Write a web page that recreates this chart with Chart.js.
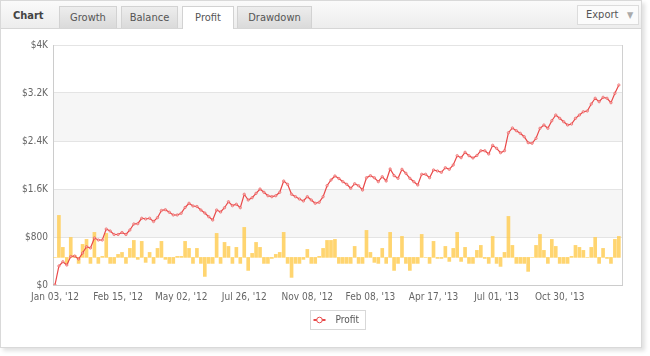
<!DOCTYPE html>
<html><head><meta charset="utf-8">
<script src="https://cdn.jsdelivr.net/npm/chart.js@4.4.1/dist/chart.umd.min.js"></script>
<style>
html,body{margin:0;padding:0;background:#fff;width:650px;height:356px;overflow:hidden;font-family:"DejaVu Sans Condensed","DejaVu Sans",sans-serif;}
#panel{position:absolute;left:0;top:0;width:640px;height:346px;border:1px solid #d9d9d9;box-shadow:3px 3px 4px rgba(0,0,0,0.12);background:#fff;}
#bar{position:absolute;left:0;top:0;width:640px;height:27px;background:linear-gradient(#fafafa,#ededed);border-bottom:1px solid #d6d6d6;}
.title{position:absolute;left:12px;top:8px;font-weight:bold;font-size:11px;color:#444;}
.tab{position:absolute;top:5px;height:21px;line-height:21px;font-size:11px;color:#555;text-align:center;background:linear-gradient(#ededed,#dadada);border:1px solid #d2d2d2;border-bottom:none;}
.tab.active{background:#fff;height:22px;}
#export{position:absolute;left:576px;top:4px;width:60px;height:18px;line-height:18px;border:1px solid #dcdcdc;background:#fbfbfb;font-size:11px;color:#555;}
#export span{position:absolute;left:8px;}
#export i{position:absolute;left:49px;top:0;font-style:normal;font-size:9px;color:#aaa;}
#wrap{position:absolute;left:0;top:0;width:650px;height:356px;}
</style></head>
<body>
<div id="panel">
  <div id="bar">
    <div class="title">Chart</div>
    <div class="tab" style="left:58px;width:56px">Growth</div>
    <div class="tab" style="left:120px;width:55px">Balance</div>
    <div class="tab active" style="left:181px;width:50px">Profit</div>
    <div class="tab" style="left:236px;width:73px">Drawdown</div>
    <div id="export"><span>Export</span><i>&#9660;</i></div>
  </div>
</div>
<div id="wrap"><canvas id="c" width="650" height="356"></canvas></div>
<script>
const xLabels = ["Jan 03, '12","Feb 15, '12","May 02, '12","Jul 26, '12","Nov 08, '12","Feb 08, '13","Apr 17, '13","Jul 01, '13","Oct 30, '13"];
const labelStep = 16;
const yTicks = [0, 800, 1600, 2400, 3200, 4000];
const yTickLabels = ["$0", "$800", "$1.6K", "$2.4K", "$3.2K", "$4K"];
const profit = [0,317,388,333,475,483,433,533,638,617,
783,750,750,933,900,842,842,875,842,917,
1017,1022,1112,1100,1112,1058,1122,1242,1255,1212,
1167,1167,1195,1292,1362,1317,1308,1250,1200,1138,
1083,1250,1217,1288,1388,1322,1345,1288,1512,1417,
1455,1528,1600,1545,1488,1472,1488,1545,1733,1678,
1512,1472,1433,1400,1472,1417,1362,1378,1472,1655,
1750,1817,1775,1722,1678,1612,1688,1655,1583,1788,
1822,1788,1722,1805,1733,1933,1822,1778,1928,1862,
1778,1722,1667,1845,1845,1788,1917,1900,1878,1955,
1928,2000,2155,2122,2212,2155,2117,2158,2238,2238,
2183,2328,2278,2205,2238,2538,2617,2572,2528,2472,
2372,2362,2445,2612,2667,2612,2738,2833,2778,2722,
2667,2683,2778,2833,2888,2900,3017,3112,3055,3128,
3112,3038,3195,3333];
const daily = [0,700,167,-100,333,33,-100,217,300,-100,
417,-100,17,400,-100,-100,50,83,-100,150,
283,-33,267,-83,83,-100,150,267,-33,-100,
-100,17,17,267,150,-100,150,-100,-317,-100,
-100,400,-100,250,183,-100,167,-100,500,-217,
67,250,167,-100,-100,-17,50,83,417,-100,
-333,-100,-100,-33,133,-100,-100,17,150,283,
283,300,-100,-100,-100,-100,183,-100,-100,450,
83,-83,-100,150,-100,417,-217,-100,350,-100,
-217,-100,-100,383,0,-100,267,-17,-17,183,
-67,150,417,-67,167,-100,-100,117,200,-17,
-100,350,-100,-150,83,683,200,-100,-100,-100,
-233,0,200,383,117,-100,300,183,-100,-100,
-100,17,200,167,117,0,167,333,-100,150,
-17,-100,300,350];

const FONT = '"DejaVu Sans Condensed","DejaVu Sans",sans-serif';
const LINE = '#e94848';

const bandsPlugin = {
  id: 'bands',
  beforeDraw(chart) {
    const {ctx, chartArea: a, scales: {y}} = chart;
    ctx.save();
    ctx.fillStyle = '#f6f6f6';
    for (let k = 1; k < yTicks.length - 1; k += 2) {
      const t = y.getPixelForValue(yTicks[k + 1]);
      const b = y.getPixelForValue(yTicks[k]);
      ctx.fillRect(a.left, t, a.right - a.left, b - t);
    }
    ctx.restore();
  },
  afterDraw(chart) {
    const {ctx, chartArea: a} = chart;
    ctx.save();
    ctx.strokeStyle = '#d0d0d0';
    ctx.lineWidth = 1;
    ctx.beginPath();
    ctx.moveTo(Math.round(a.right) + 0.5, a.top);
    ctx.lineTo(Math.round(a.right) + 0.5, a.bottom);
    ctx.stroke();
    const ds = chart.data.datasets[0];
    const cx = (a.left + a.right) / 2;
    const w = 55, h = 19;
    const lx = Math.round(cx - w / 2) + 0.5, ly = Math.round(a.bottom + 25) + 0.5;
    ctx.strokeStyle = '#d8d8d8';
    ctx.strokeRect(lx, ly, w, h);
    const my = ly + h / 2;
    ctx.strokeStyle = LINE;
    ctx.lineWidth = 2;
    ctx.beginPath();
    ctx.moveTo(lx + 3, my); ctx.lineTo(lx + 15, my);
    ctx.stroke();
    ctx.lineWidth = 1;
    ctx.fillStyle = '#fff';
    ctx.beginPath();
    ctx.arc(lx + 9, my, 2.8, 0, Math.PI * 2);
    ctx.fill(); ctx.stroke();
    ctx.fillStyle = '#555';
    ctx.font = '10px ' + FONT;
    ctx.textBaseline = 'middle';
    ctx.fillText(ds.label, lx + 25, my);
    ctx.restore();
  }
};

new Chart(document.getElementById('c'), {
  type: 'bar',
  data: {
    datasets: [
      {
        type: 'line', label: 'Profit', yAxisID: 'y', order: 0,
        data: profit.map((v, i) => ({x: i, y: v})),
        borderColor: LINE, borderWidth: 1.2, tension: 0,
        pointRadius: 1.2, pointBorderWidth: 0.7, pointBorderColor: 'rgba(233,72,72,0.85)',
        pointBackgroundColor: 'rgba(255,220,220,0.6)'
      },
      {
        type: 'bar', label: 'Daily', yAxisID: 'y1', order: 1,
        data: daily.map((v, i) => ({x: i, y: v})),
        backgroundColor: 'rgba(255,204,80,0.82)', borderWidth: 0,
        barThickness: 3
      }
    ]
  },
  options: {
    animation: false, responsive: false,
    events: [],
    layout: {padding: {left: 0, right: 28, top: 45, bottom: 50}},
    plugins: {legend: {display: false}, tooltip: {enabled: false}},
    scales: {
      x: {
        type: 'linear', min: -0.5, max: 143.8, offset: false,
        grid: {display: false, drawTicks: false},
        border: {display: true, color: '#cccccc'},
        afterBuildTicks(s) { s.ticks = xLabels.map((l, k) => ({value: k * labelStep})); },
        afterFit(s) { s.height = 21; },
        ticks: {
          autoSkip: false, maxRotation: 0, padding: 6, color: '#666',
          font: {size: 10, family: FONT},
          callback(v) { const k = Math.round(v / labelStep); return xLabels[k] || ''; }
        }
      },
      y: {
        type: 'linear', min: 0, max: 4000, position: 'left',
        afterBuildTicks(s) { s.ticks = yTicks.map(v => ({value: v})); },
        afterFit(s) { s.width = 53; },
        grid: {color: '#e4e4e4', drawTicks: false},
        border: {display: true, color: '#cccccc'},
        ticks: {
          padding: 5, color: '#666', font: {size: 10, family: FONT},
          callback(v) { return yTickLabels[yTicks.indexOf(v)]; }
        }
      },
      y1: {type: 'linear', min: -460, max: 3540, display: false}
    }
  },
  plugins: [bandsPlugin]
});
</script>
</body></html>
